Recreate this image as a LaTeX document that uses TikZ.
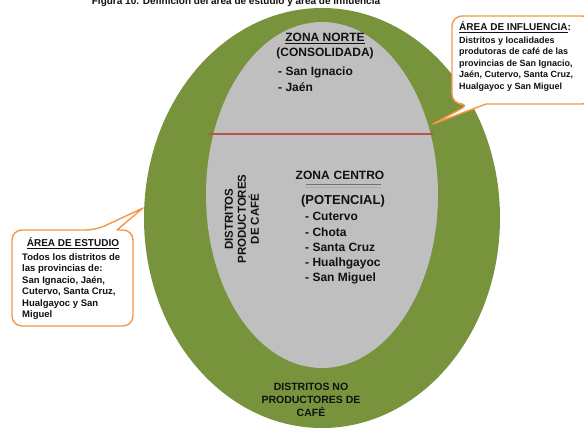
\documentclass[tikz,border=0pt]{standalone}
\usepackage{fontspec}
\setmainfont{Liberation Sans}
\definecolor{ringgreen}{HTML}{77933C}
\definecolor{zonegray}{HTML}{BFBFBF}
\definecolor{lineRed}{HTML}{C0504D}
\definecolor{calloutOrange}{HTML}{F79646}
\definecolor{textDark}{HTML}{111111}
\begin{document}
\begin{tikzpicture}[x=1pt,y=-1pt,
  callout/.style={draw=calloutOrange, line width=1.4pt, fill=white, line join=round},
  txt/.style={inner sep=0pt, text=textDark, font=\bfseries\fontsize{#1}{#1}\selectfont},
  ml/.style 2 args={inner sep=0pt, text=textDark, align=center, font=\bfseries\fontsize{#1}{#2}\selectfont}]
\useasboundingbox (0,0) rectangle (584,429);
\clip (0,0) rectangle (584,429);
\fill[white] (0,0) rectangle (584,429);

% caption (cut off at top, as in the source)
\node[txt=10, anchor=base] (title) at (236,4) {Figura 10. Definición del área de estudio y área de influencia};

% ellipses
\fill[ringgreen] (322,218) ellipse [x radius=178, y radius=210];
\fill[zonegray] (322,195) ellipse [x radius=116, y radius=173];

% dividing line
\coordinate (redL) at (209,134);
\coordinate (redR) at (433,134);
\draw[lineRed, line width=2.2pt] (redL) -- (redR);

% Zona norte
\node[txt=12, anchor=base] (zn) at (325,41.3) {\underline{ZONA NORTE}};
\node[txt=12, anchor=base] (znc) at (325,56.3) {(CONSOLIDADA)};
\node[txt=12, anchor=base west] (zn1) at (278,75.3) {- San Ignacio};
\node[txt=12, anchor=base west] (zn2) at (278,91.3) {- Jaén};

% Zona centro
\node[txt=12, anchor=base] (zc) at (340,179.3) {ZONA\,\,CENTRO};
\coordinate (ulA) at (306,184);
\coordinate (ulB) at (381,184);
\coordinate (ulC) at (306,187);
\coordinate (ulD) at (381,187);
\draw[black!55, line width=1pt] (ulA) -- (ulB);
\draw[black!35, line width=1pt, dash pattern=on 3pt off 1pt] (ulC) -- (ulD);
\node[txt=13, anchor=base] (zcp) at (343,204.7) {(POTENCIAL)};
\node[txt=12, anchor=base west] (zc1) at (305,220.3) {- Cutervo};
\node[txt=12, anchor=base west] (zc2) at (305,236.3) {- Chota};
\node[txt=12, anchor=base west] (zc3) at (305,251.3) {- Santa Cruz};
\node[txt=12, anchor=base west] (zc4) at (305,266.3) {- Hualhgayoc};
\node[txt=12, anchor=base west] (zc5) at (305,281.3) {- San Miguel};

% rotated label
\node[ml={11.5}{13}, rotate=90] (dp) at (242,219) {DISTRITOS\\PRODUCTORES\\DE CAFÉ};

% bottom label
\node[ml={10.5}{13}] (dn) at (311,400) {DISTRITOS NO\\PRODUCTORES DE\\CAFÉ};

% callout: area de influencia
\coordinate (tipA) at (433,124);
\draw[callout] (486,104) [rounded corners=10pt] -- (592,104) -- (592,16) -- (452,16) -- (452,104) -- (470,104) [sharp corners] -- (tipA) -- cycle;
\node[txt=10, anchor=base west] (ai) at (459,30.6) {\underline{ÁREA DE INFLUENCIA}:};
\node[txt=9, anchor=base west] (ai1) at (459,43.2) {Distritos y localidades};
\node[txt=9, anchor=base west] (ai2) at (459,54.7) {produtoras de café de las};
\node[txt=9, anchor=base west] (ai3) at (459,66.2) {provincias de San Ignacio,};
\node[txt=9, anchor=base west] (ai4) at (459,77.7) {Jaén, Cutervo, Santa Cruz,};
\node[txt=9, anchor=base west] (ai5) at (459,89.2) {Hualgayoc y San Miguel};

% callout: area de estudio
\coordinate (tipB) at (143,208);
\draw[callout] (117,230) [rounded corners=10pt] -- (133,230) -- (133,326) -- (12,326) -- (12,230) -- (96,230) [sharp corners] -- (tipB) -- cycle;
\node[txt=10, anchor=base] (ae) at (73,246.6) {\underline{ÁREA DE ESTUDIO}};
\node[txt=9.5, anchor=base west] (ae1) at (22,260) {Todos los distritos de};
\node[txt=9.5, anchor=base west] (ae2) at (22,271.5) {las provincias de:};
\node[txt=9.5, anchor=base west] (ae3) at (22,283) {San Ignacio, Jaén,};
\node[txt=9.5, anchor=base west] (ae4) at (22,294.5) {Cutervo, Santa Cruz,};
\node[txt=9.5, anchor=base west] (ae5) at (22,306) {Hualgayoc y San};
\node[txt=9.5, anchor=base west] (ae6) at (22,317.5) {Miguel};
\end{tikzpicture}
\end{document}
